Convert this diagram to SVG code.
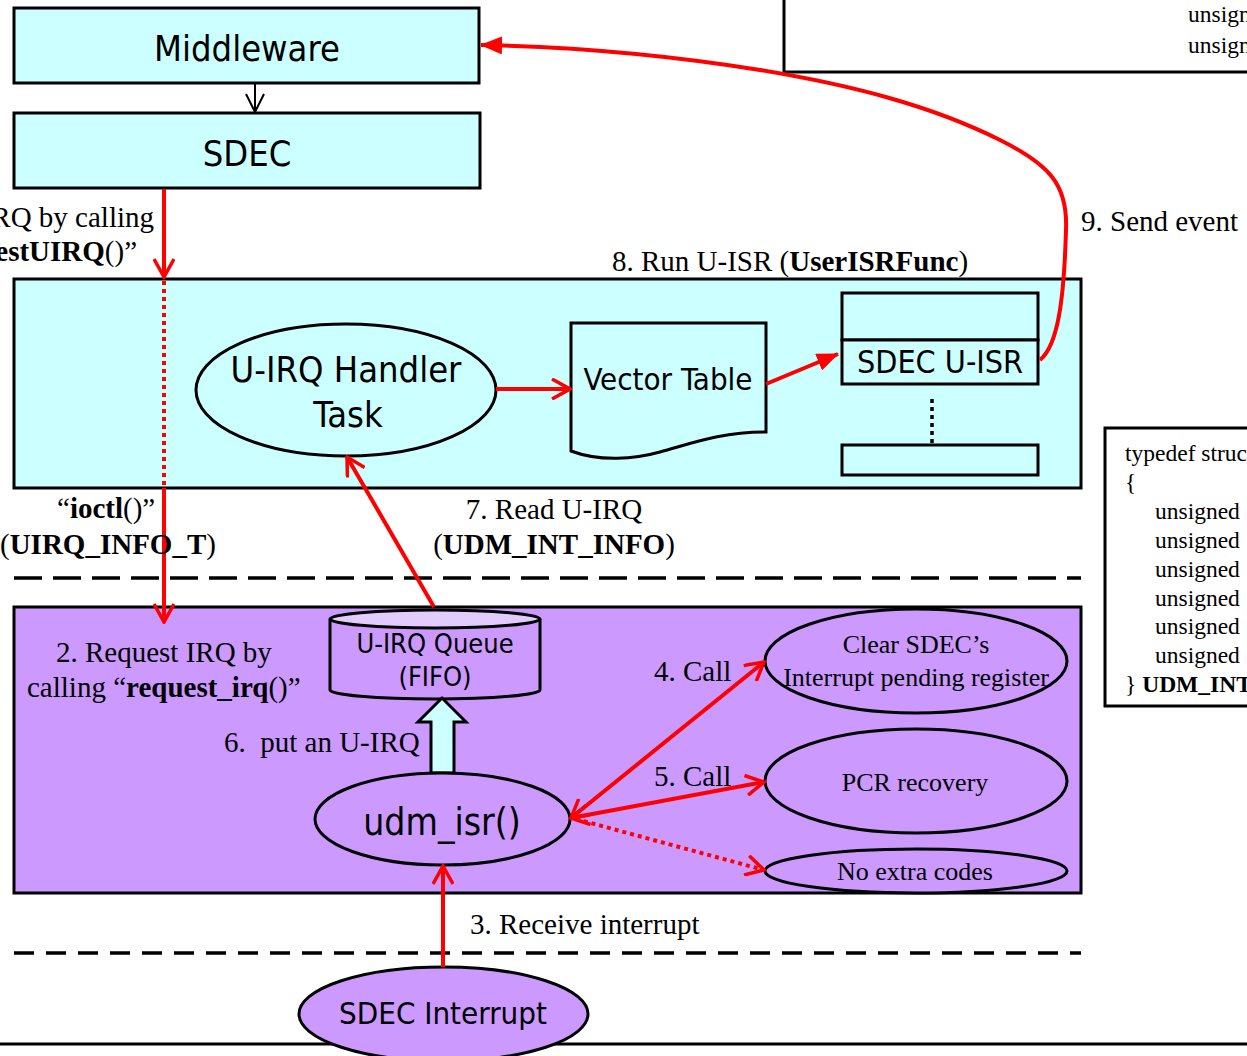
<svg xmlns="http://www.w3.org/2000/svg" width="1247" height="1056" viewBox="0 0 1247 1056">
  <style>
    .box{stroke:#000;stroke-width:3}
    .cyan{fill:#CCFFFF}
    .purple{fill:#CC99FF}
    .sans{font-family:"DejaVu Sans Condensed","DejaVu Sans",sans-serif;font-stretch:condensed;fill:#000}
    .serif{font-family:"Liberation Serif","Times New Roman",serif;fill:#000}
    .lbl{font-size:29px}
    .code{font-size:23.5px}
    .mid{text-anchor:middle}
    .end{text-anchor:end}
    .red{stroke:#FF0000;stroke-width:4;fill:none}
    .dotted{stroke-dasharray:4 4}
    .sep{stroke:#000;stroke-width:3.5;fill:none}
    .b{font-weight:bold}
  </style>
  <defs>
    <marker id="vOpen" viewBox="0 0 22 22" refX="20" refY="11" markerWidth="22" markerHeight="22" markerUnits="userSpaceOnUse" orient="auto-start-reverse">
      <path d="M2,1 L20,11 L2,21" fill="none" stroke="#FF0000" stroke-width="3.5"/>
    </marker>
    <marker id="tri" viewBox="0 0 22 18" refX="21" refY="9" markerWidth="22" markerHeight="18" markerUnits="userSpaceOnUse" orient="auto">
      <path d="M0,0 L22,9 L0,18 Z" fill="#FF0000"/>
    </marker>
    <marker id="vBlack" viewBox="0 0 22 20" refX="20" refY="10" markerWidth="22" markerHeight="20" markerUnits="userSpaceOnUse" orient="auto">
      <path d="M2,1 L20,10 L2,19" fill="none" stroke="#000" stroke-width="2"/>
    </marker>
  </defs>

  <rect width="1247" height="1056" fill="#FFFFFF"/>

  <!-- layer separators -->
  <g id="separators">
    <line class="sep" x1="14" y1="578" x2="1081" y2="578" stroke-dasharray="28 11"/>
    <line class="sep" x1="14" y1="953" x2="1081" y2="953" stroke-dasharray="20 12"/>
    <line x1="0" y1="1044" x2="1247" y2="1044" stroke="#000" stroke-width="3"/>
  </g>

  <!-- struct definitions -->
  <g id="struct-top">
    <rect x="784" y="-10" width="480" height="82" fill="#FFFFFF" class="box"/>
    <text class="serif code" x="1188" y="22">unsigned</text>
    <text class="serif code" x="1188" y="53">unsigned</text>
  </g>
  <g id="struct-udm-int-info">
    <rect x="1105" y="428" width="160" height="278" fill="#FFFFFF" class="box"/>
    <text class="serif code" x="1125" y="461">typedef struct</text>
    <text class="serif code" x="1125" y="490">{</text>
    <text class="serif code" x="1155" y="519">unsigned</text>
    <text class="serif code" x="1155" y="548">unsigned</text>
    <text class="serif code" x="1155" y="577">unsigned</text>
    <text class="serif code" x="1155" y="606">unsigned</text>
    <text class="serif code" x="1155" y="634">unsigned</text>
    <text class="serif code" x="1155" y="663">unsigned</text>
    <text class="serif code" x="1125" y="692">} <tspan class="b">UDM_INT_INFO</tspan></text>
  </g>

  <!-- user space -->
  <g id="middleware">
    <rect x="14" y="8" width="465" height="75" class="box cyan"/>
    <text class="sans mid" font-size="36" x="247" y="61">Middleware</text>
  </g>
  <g id="sdec">
    <rect x="14" y="113" width="466" height="75" class="box cyan"/>
    <text class="sans mid" font-size="36" x="247" y="166">SDEC</text>
  </g>

  <!-- kernel task area -->
  <g id="task-area">
    <rect x="14" y="279" width="1067" height="209" class="box cyan"/>
  </g>
  <g id="uirq-handler-task">
    <ellipse cx="346" cy="390" rx="150" ry="66" class="box cyan"/>
    <text class="sans mid" font-size="36" x="346" y="382">U-IRQ Handler</text>
    <text class="sans mid" font-size="36" x="348" y="427">Task</text>
  </g>
  <g id="vector-table">
    <path d="M571,323 H766 V432 C720,432 690,444 660,452 C635,459 600,462 571,451 Z" class="box cyan"/>
    <text class="sans mid" font-size="31" x="668" y="390">Vector Table</text>
  </g>
  <g id="isr-table">
    <rect x="842" y="293" width="196" height="47" class="box cyan"/>
    <rect x="842" y="340" width="196" height="44" class="box cyan"/>
    <text class="sans mid" font-size="32" x="940" y="373">SDEC U-ISR</text>
    <line x1="932" y1="399" x2="932" y2="443" stroke="#000" stroke-width="3.5" stroke-dasharray="4 4"/>
    <rect x="842" y="445" width="196" height="30" class="box cyan"/>
  </g>

  <!-- kernel driver area -->
  <g id="driver-area">
    <rect x="14" y="607" width="1067" height="286" class="box purple"/>
  </g>
  <g id="uirq-queue">
    <path d="M330,619 V690 A105,9 0 0 0 540,690 V619" class="box purple"/>
    <ellipse cx="435" cy="619" rx="105" ry="9" class="box" fill="#E2CCFF"/>
    <text class="sans mid" font-size="27" x="435" y="653">U-IRQ Queue</text>
    <text class="sans mid" font-size="27" x="435" y="686">(FIFO)</text>
  </g>
  <g id="put-arrow">
    <polygon points="431,773 431,722 418,722 442,698 466,722 454,722 454,773" class="box cyan"/>
  </g>
  <g id="udm-isr">
    <ellipse cx="442.5" cy="819" rx="127.5" ry="46" class="box purple"/>
    <text class="sans mid" font-size="37" x="442" y="835">udm_isr()</text>
  </g>
  <g id="clear-pending">
    <ellipse cx="916" cy="661" rx="151" ry="52" class="box purple"/>
    <text class="serif mid" font-size="26" x="916" y="653">Clear SDEC’s</text>
    <text class="serif mid" font-size="26" x="916" y="686">Interrupt pending register</text>
  </g>
  <g id="pcr-recovery">
    <ellipse cx="916" cy="781" rx="151" ry="52" class="box purple"/>
    <text class="serif mid" font-size="26" x="915" y="791">PCR recovery</text>
  </g>
  <g id="no-extra-codes">
    <ellipse cx="916" cy="871" rx="151" ry="22" class="box purple"/>
    <text class="serif mid" font-size="26" x="915" y="880">No extra codes</text>
  </g>

  <!-- hardware -->
  <g id="sdec-interrupt">
    <ellipse cx="443.5" cy="1014" rx="144.5" ry="47" class="box purple"/>
    <text class="sans mid" font-size="31" x="443" y="1024">SDEC Interrupt</text>
  </g>

  <!-- connectors -->
  <g id="connectors">
    <line x1="255" y1="83" x2="255" y2="112" stroke="#000" stroke-width="2" marker-end="url(#vBlack)"/>
    <line x1="164" y1="189" x2="164" y2="277" class="red" stroke-width="3.5" marker-end="url(#vOpen)"/>
    <line x1="164" y1="281" x2="164" y2="488" class="red dotted" stroke-width="3.5"/>
    <line x1="164" y1="488" x2="164" y2="622" class="red" stroke-width="3.5" marker-end="url(#vOpen)"/>
    <line x1="496" y1="389" x2="570" y2="389" class="red" marker-end="url(#vOpen)"/>
    <line x1="766" y1="384" x2="838" y2="354" class="red" marker-end="url(#tri)"/>
    <path d="M1040,360 C1058,345 1064,300 1066,230 C1068,185 1050,165 1000,140 C930,105 850,85 760,70 C680,57 580,47 481,45" class="red" stroke-width="3.5" marker-end="url(#tri)"/>
    <line x1="434" y1="607" x2="347" y2="457" class="red" marker-end="url(#vOpen)"/>
    <line x1="571" y1="818" x2="764" y2="662" class="red" marker-start="url(#vOpen)" marker-end="url(#vOpen)"/>
    <line x1="571" y1="818" x2="764" y2="782" class="red" marker-start="url(#vOpen)" marker-end="url(#vOpen)"/>
    <line x1="576" y1="819" x2="764" y2="870" class="red dotted" marker-end="url(#vOpen)"/>
    <line x1="443" y1="967" x2="443" y2="866" class="red" stroke-width="3.5" marker-end="url(#vOpen)"/>
  </g>

  <!-- connector labels -->
  <g id="labels">
    <text class="serif lbl end" x="154" y="227">RQ by calling</text>
    <text class="serif lbl end" x="137" y="261"><tspan class="b">estUIRQ</tspan>()”</text>
    <text class="serif lbl" x="612" y="271">8. Run U-ISR (<tspan class="b">UserISRFunc</tspan>)</text>
    <text class="serif lbl" x="1081" y="231">9. Send event</text>
    <text class="serif lbl" x="57" y="518">“<tspan class="b">ioctl</tspan>()”</text>
    <text class="serif lbl" x="0" y="554">(<tspan class="b">UIRQ_INFO_T</tspan>)</text>
    <text class="serif lbl mid" x="554" y="519">7. Read U-IRQ</text>
    <text class="serif lbl mid" x="554" y="554">(<tspan class="b">UDM_INT_INFO</tspan>)</text>
    <text class="serif lbl" x="56" y="662">2. Request IRQ by</text>
    <text class="serif lbl" x="27" y="697">calling “<tspan class="b">request_irq</tspan>()”</text>
    <text class="serif lbl" x="224" y="752" xml:space="preserve">6.  put an U-IRQ</text>
    <text class="serif lbl" x="654" y="681">4. Call</text>
    <text class="serif lbl" x="654" y="786">5. Call</text>
    <text class="serif lbl" x="470" y="934">3. Receive interrupt</text>
  </g>
</svg>
